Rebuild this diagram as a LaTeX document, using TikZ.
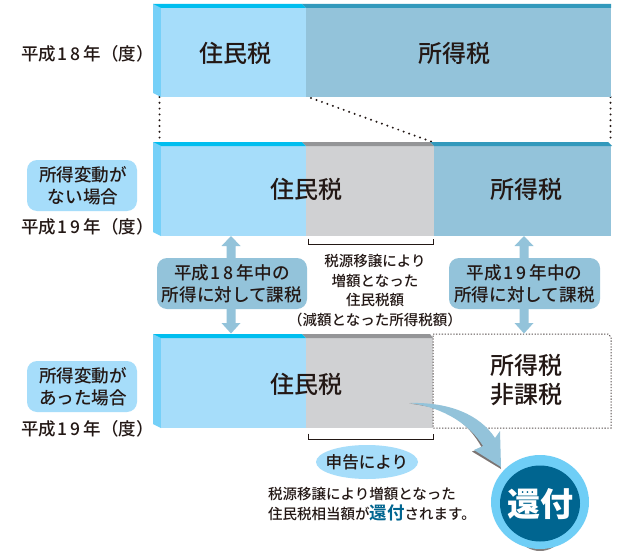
\documentclass[tikz,border=0pt]{standalone}
\usepackage{fontspec}
\setmainfont{Noto Sans CJK JP Medium}
\newfontfamily\boldcjk{Noto Sans CJK JP Bold}
\newfontfamily\blackcjk{Noto Sans CJK JP Black}
\definecolor{ink}{HTML}{231815}
\definecolor{lightb}{HTML}{A6DDFA}
\definecolor{facet}{HTML}{75D0F8}
\definecolor{cyanstrip}{HTML}{00BEEF}
\definecolor{greyb}{HTML}{93C3DA}
\definecolor{darkstrip}{HTML}{3299BC}
\definecolor{greybar}{HTML}{D0D1D3}
\definecolor{greystrip}{HTML}{949597}
\definecolor{navy}{HTML}{006590}
\definecolor{ringb}{HTML}{6FCEF6}
\newcommand{\fsz}[2]{\fontsize{#1pt}{#2pt}\selectfont}
\newcommand{\yr}[2]{平成\hspace{1.5pt}#1\hspace{3pt}#2\hspace{3pt}年}
\tikzset{
  x=1pt,y=-1pt,
  lab/.style={font=\fsz{24}{29},text=ink,align=center,inner sep=0pt},
  yearlab/.style={font=\fsz{17.5}{22},text=ink,inner sep=0pt},
  small/.style={font=\fsz{14.5}{19},text=ink,inner sep=0pt},
  pill/.style={rounded corners=10pt,fill=#1},
  pilltext/.style={font=\fsz{17.6}{22},text=ink,align=center,inner sep=0pt},
  darrow/.style={fill=greyb},
  dots/.style={draw=ink,line width=2.2pt,line cap=round,dash pattern=on 0pt off 5.8pt},
  boxdots/.style={draw=ink!75,line width=1pt,dash pattern=on 1.3pt off 1.6pt},
  bracket/.style={draw=ink,line width=0.9pt},
}
\newcommand{\barbase}[2]{% top y, bottom y
  \fill[facet] (153,#1) -- (161,#1+4) -- (161,#2) -- (153,#2-4) -- cycle;
  \fill[lightb] (161,#1+4) rectangle (306,#2);
  \fill[cyanstrip] (153,#1) -- (302,#1) -- (306,#1+4) -- (161,#1+4) -- cycle;
}
\begin{document}
\begin{tikzpicture}
\useasboundingbox (0,0) rectangle (621,551);
\fill[white] (0,0) rectangle (621,551);

% dotted links
\coordinate (d1a) at (159.5,97); \coordinate (d1b) at (159.5,141);
\coordinate (d2a) at (311,98);   \coordinate (d2b) at (431,141.5);
\coordinate (d3a) at (610.5,97); \coordinate (d3b) at (610.5,141);
\draw[dots] (d1a) -- (d1b);
\draw[dots] (d2a) -- (d2b);
\draw[dots] (d3a) -- (d3b);

% bar 1
\barbase{4}{97}
\fill[greyb] (306,8) rectangle (611,97);
\fill[darkstrip] (302,4) -- (611,4) -- (611,8) -- (306,8) -- cycle;
% bar 2
\barbase{142}{236}
\fill[greybar] (306,146) rectangle (434,236);
\fill[greyb] (434,146) rectangle (611,236);
\fill[greystrip] (302,142) -- (430,142) -- (434,146) -- (306,146) -- cycle;
\fill[darkstrip] (430,142) -- (608,142) -- (612,146) -- (434,146) -- cycle;
% bar 3
\barbase{334}{428}
\fill[greybar] (306,338) rectangle (433,428);
\fill[greystrip] (302,334) -- (430,334) -- (433,338) -- (306,338) -- cycle;
\draw[boxdots] (433,334) -- (608,334) -- (611,337) -- (611,428) -- (433,428) -- cycle;

% bar labels
\node[lab] (a1) at (235,53) {住民税};
\node[lab] (a2) at (454,53) {所得税};
\node[lab] (b1) at (306,189) {住民税};
\node[lab] (b2) at (526,189) {所得税};
\node[lab] (c1) at (306,384) {住民税};
\node[lab] (c2) at (526,380) {所得税\\非課税};

% year labels
\node[yearlab] (y1) at (87.5,54) {\yr{1}{8}（度）};
\node[yearlab] (y2) at (87.5,227) {\yr{1}{9}（度）};
\node[yearlab] (y3) at (87.5,429) {\yr{1}{9}（度）};

% left pills
\fill[pill=lightb] (27,160) rectangle (137,211);
\node[pilltext] (p1) at (83,185.5) {所得変動が\\ない場合};
\fill[pill=lightb] (27,361) rectangle (137,412);
\node[pilltext] (p2) at (83,386.5) {所得変動が\\あった場合};

% double arrows
\foreach \ax in {231,524}{
  \fill[darrow] (\ax,236) -- (\ax+9.5,246) -- (\ax+4.5,246) -- (\ax+4.5,323) -- (\ax+9.5,323) -- (\ax,333.5) -- (\ax-9.5,323) -- (\ax-4.5,323) -- (\ax-4.5,246) -- (\ax-9.5,246) -- cycle;
}
% mid pills
\fill[pill=greyb] (157,258) rectangle (307,309);
\node[pilltext] (m1) at (232,283.5) {\yr{1}{8}中の\\所得に対して課税};
\fill[pill=greyb] (449,258) rectangle (600,309);
\node[pilltext] (m2) at (524.5,283.5) {\yr{1}{9}中の\\所得に対して課税};

% brackets
\draw[bracket] (308,238.5) -- (308,244.5) -- (433,244.5) -- (433,238.5);
\draw[bracket] (308,433.5) -- (308,439.5) -- (433,439.5) -- (433,433.5);

% centre text
\node[small,align=center,font=\fsz{14.5}{19.6}] (t1) at (375,290.5) {税源移譲により\\増額となった\\住民税額\\（減額となった所得税額）};

% curved arrow with shadow
\fill[ink!60] (409,403.5) .. controls (445,406) and (468,422) .. (482,448) -- (472,451.5) -- (501,469) -- (496,440) .. controls (480,420) and (445,408) .. cycle;
\fill[greyb] (410,403) .. controls (450,402) and (480,415) .. (495,438) -- (500,431) -- (501,467) -- (474,450) -- (483,446) .. controls (470,425) and (445,408) .. cycle;

% ellipse
\fill[lightb] (367,462) ellipse [x radius=51,y radius=17];
\node[pilltext,font=\fsz{16.6}{20}] (e) at (367,462) {申告により};

% bottom text
\node[small,anchor=west] (t2) at (268,494) {税源移譲により増額となった};
\node[small,anchor=west] (t3) at (268,513) {住民税相当額が{\boldcjk\fontsize{17.5pt}{19pt}\selectfont\color{navy}還付}されます。};

% circle
\fill[ink!55] (540,504) ellipse [x radius=34,y radius=47];
\fill[ringb] (540,502) ellipse [x radius=49,y radius=47];
\fill[navy] (540,503.5) ellipse [x radius=40,y radius=38];
\node[font=\fsz{33}{33}\blackcjk,text=white,inner sep=0pt] (k) at (540,504) {還付};
\end{tikzpicture}
\end{document}
